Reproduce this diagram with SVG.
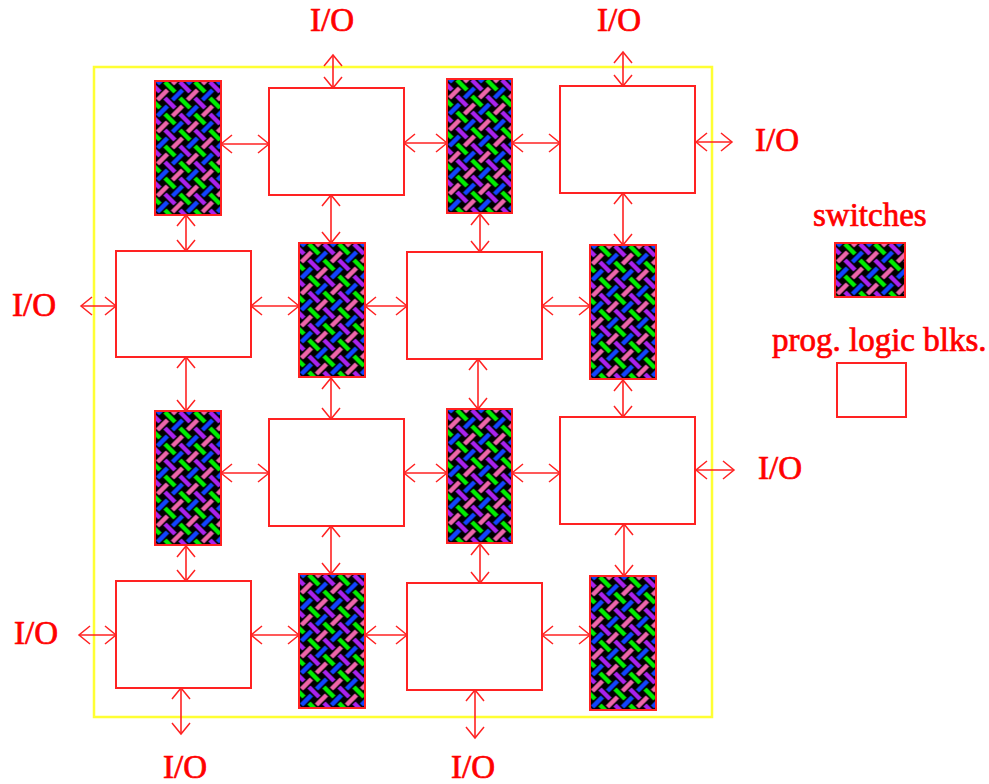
<svg xmlns="http://www.w3.org/2000/svg" width="989" height="784" viewBox="0 0 989 784">
<style>
.b{fill:#fff;stroke:#f22;stroke-width:2}
.s{fill:url(#w);stroke:#f22;stroke-width:2}
.c line{stroke:#f22;stroke-width:1.6;marker-start:url(#a);marker-end:url(#a)}
text{font-family:"Liberation Serif",serif;font-size:33px;fill:#f00;stroke:#f00;stroke-width:.7}
</style>
<defs>
<marker id="a" viewBox="-12 -10 14 20" markerWidth="14" markerHeight="20" refX="0" refY="0" orient="auto-start-reverse" markerUnits="userSpaceOnUse"><path d="M-11-9L0 0L-11 9" fill="none" stroke="#f22" stroke-width="1.5"/></marker>
<pattern id="w" width="30" height="32" patternUnits="userSpaceOnUse" x="7.5" y="-2">
<rect width="30" height="32" fill="#000"/>
<g stroke-width="4.5" fill="none">
<path d="M2.5 3L12.5 13" stroke="#0e0"/><path d="M17.5 3L27.5 13" stroke="#a2e"/><path d="M2.5 19L12.5 29" stroke="#a2e"/><path d="M17.5 19L27.5 29" stroke="#0e0"/>
<path d="M10 21L20 11" stroke="#14f"/><path d="M-5 21L5 11M25 21L35 11" stroke="#e6a"/><path d="M10 5L20 -5M10 37L20 27" stroke="#e6a"/><path d="M-5 5L5 -5M25 5L35 -5M-5 37L5 27M25 37L35 27" stroke="#14f"/>
</g>
</pattern>
</defs>
<rect x="94" y="67" width="618" height="650" fill="none" stroke="#ff3" stroke-width="2.5"/>
<g id="connectors" class="c">
<line x1="333" y1="55" x2="333" y2="88"/><line x1="623" y1="52" x2="623" y2="86"/><line x1="696" y1="142" x2="732" y2="142"/><line x1="221" y1="144" x2="269" y2="144"/><line x1="404" y1="143" x2="447" y2="143"/><line x1="512" y1="143" x2="560" y2="143"/><line x1="186" y1="215" x2="186" y2="251"/><line x1="331" y1="195" x2="331" y2="243"/><line x1="480" y1="214" x2="480" y2="252"/><line x1="623" y1="193" x2="623" y2="245"/><line x1="81" y1="306" x2="116" y2="306"/><line x1="251" y1="306" x2="299" y2="306"/><line x1="365" y1="306" x2="407" y2="306"/><line x1="542" y1="306" x2="590" y2="306"/><line x1="186" y1="357" x2="186" y2="411"/><line x1="331" y1="378" x2="331" y2="419"/><line x1="478" y1="359" x2="478" y2="409"/><line x1="623" y1="380" x2="623" y2="417"/><line x1="221" y1="473" x2="269" y2="473"/><line x1="404" y1="473" x2="447" y2="473"/><line x1="512" y1="473" x2="560" y2="473"/><line x1="696" y1="470" x2="734" y2="470"/><line x1="186" y1="546" x2="186" y2="581"/><line x1="331" y1="526" x2="331" y2="574"/><line x1="480" y1="544" x2="480" y2="583"/><line x1="624" y1="524" x2="624" y2="576"/><line x1="79" y1="635" x2="116" y2="635"/><line x1="251" y1="635" x2="299" y2="635"/><line x1="365" y1="635" x2="407" y2="635"/><line x1="542" y1="635" x2="590" y2="635"/><line x1="181" y1="688" x2="181" y2="734"/><line x1="475" y1="690" x2="475" y2="738"/>
</g>
<g id="s1" transform="translate(155 81)"><rect class="s" width="66" height="134"/></g>
<g id="s2" transform="translate(447 79)"><rect class="s" width="65" height="134"/></g>
<g id="s3" transform="translate(299 243)"><rect class="s" width="66" height="134"/></g>
<g id="s4" transform="translate(590 245)"><rect class="s" width="66" height="134"/></g>
<g id="s5" transform="translate(155 411)"><rect class="s" width="66" height="134"/></g>
<g id="s6" transform="translate(447 409)"><rect class="s" width="65" height="134"/></g>
<g id="s7" transform="translate(299 574)"><rect class="s" width="66" height="134"/></g>
<g id="s8" transform="translate(590 576)"><rect class="s" width="66" height="134"/></g>
<g id="legend-s" transform="translate(835 243)"><rect class="s" width="70" height="54"/></g>
<g id="b1"><rect class="b" x="269" y="88" width="135" height="107"/></g>
<g id="b2"><rect class="b" x="560" y="86" width="135" height="107"/></g>
<g id="b3"><rect class="b" x="116" y="251" width="135" height="106"/></g>
<g id="b4"><rect class="b" x="407" y="252" width="135" height="107"/></g>
<g id="b5"><rect class="b" x="269" y="419" width="135" height="107"/></g>
<g id="b6"><rect class="b" x="560" y="417" width="135" height="107"/></g>
<g id="b7"><rect class="b" x="116" y="581" width="135" height="107"/></g>
<g id="b8"><rect class="b" x="407" y="583" width="135" height="107"/></g>
<g id="legend-b"><rect class="b" x="837" y="363" width="69" height="54"/></g>
<g id="labels">
<text x="310" y="31">I/O</text><text x="597" y="31">I/O</text><text x="755" y="151">I/O</text><text x="12" y="316">I/O</text><text x="758" y="479">I/O</text><text x="14" y="644">I/O</text><text x="163" y="778">I/O</text><text x="451" y="778">I/O</text>
<text x="813" y="226">switches</text><text x="772" y="351">prog. logic blks.</text>
</g>
</svg>
